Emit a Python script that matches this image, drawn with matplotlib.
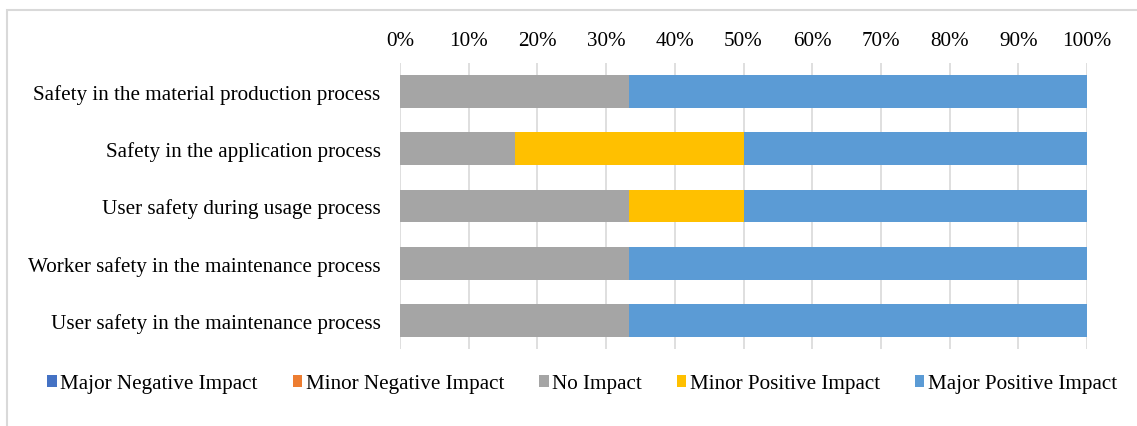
import matplotlib
matplotlib.use("Agg")
import matplotlib.pyplot as plt
from matplotlib.patches import Rectangle
import numpy as np

categories = [
    "Safety in the material production process",
    "Safety in the application process",
    "User safety during usage process",
    "Worker safety in the maintenance process",
    "User safety in the maintenance process",
]
series_names = ["Major Negative Impact", "Minor Negative Impact", "No Impact",
                "Minor Positive Impact", "Major Positive Impact"]
major_negative = [0.0, 0.0, 0.0, 0.0, 0.0]
minor_negative = [0.0, 0.0, 0.0, 0.0, 0.0]
no_impact = [33.33, 16.67, 33.33, 33.33, 33.33]
minor_positive = [0.0, 33.33, 16.67, 0.0, 0.0]
major_positive = [66.67, 50.0, 50.0, 66.67, 66.67]
colors = ["#4472C4", "#ED7D31", "#A5A5A5", "#FFC000", "#5B9BD5"]
tick_vals = [0, 10, 20, 30, 40, 50, 60, 70, 80, 90, 100]
tick_labels = [f"{v}%" for v in tick_vals]

plt.rcParams['font.family'] = ['Liberation Serif', 'DejaVu Serif']
FS = 15.2

fig = plt.figure(figsize=(11.37, 4.27), dpi=100)
# chart border
fig.patches.append(Rectangle((7/1137, -0.1), 1.2, (427-11)/427 + 0.1, transform=fig.transFigure,
                             fill=False, edgecolor="#d9d9d9", linewidth=1.5, zorder=0))

ax = fig.add_axes([400/1137, 1 - 350/427, 687/1137, (350-64)/427])
y = np.arange(len(categories))
data = [major_negative, minor_negative, no_impact, minor_positive, major_positive]
left = np.zeros(len(categories))
for name, vals, c in zip(series_names, data, colors):
    vals = np.array(vals)
    ax.barh(y, vals, left=left, height=0.57, color=c, label=name, zorder=3)
    left += vals

ax.set_xlim(0, 100)
ax.set_ylim(len(categories) - 0.5, -0.5)
ax.set_yticks(y)
ax.set_yticklabels(categories, fontsize=FS)
ax.set_xticks(tick_vals)
ax.set_xticklabels(tick_labels, fontsize=FS)
ax.xaxis.tick_top()
ax.tick_params(axis='x', length=0, pad=9.5)
ax.tick_params(axis='y', length=0, pad=14)
ax.grid(axis='x', color="#d9d9d9", linewidth=1.2, zorder=0)
for s in ax.spines.values():
    s.set_visible(False)

handles, labels = ax.get_legend_handles_labels()
fig.legend(handles, labels, loc='center', bbox_to_anchor=(582/1137, 1 - 385/427), ncol=5,
           frameon=False, fontsize=FS, handlelength=0.47, handleheight=0.47,
           handletextpad=0.15, columnspacing=1.65)

fig.savefig("out.png", dpi=100, facecolor="white")
